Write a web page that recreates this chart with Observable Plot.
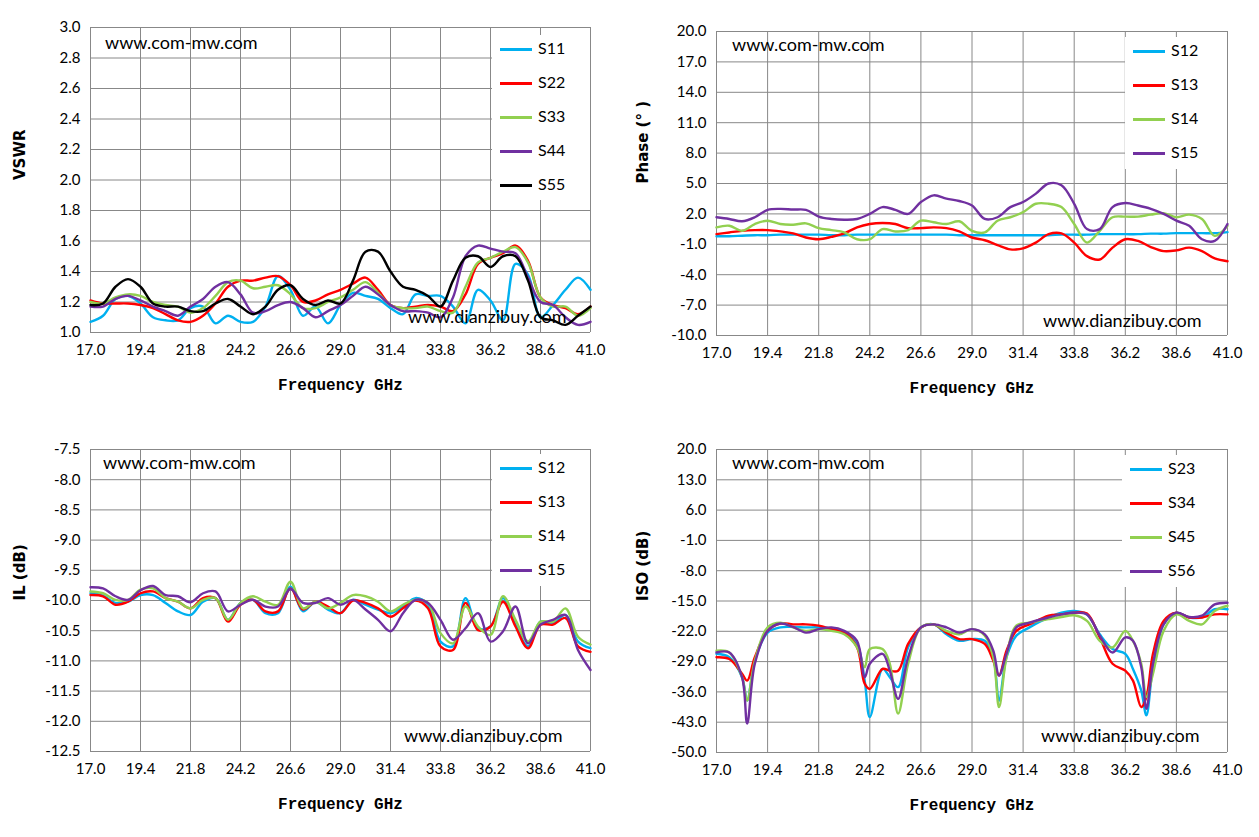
<!DOCTYPE html>
<html><head><meta charset="utf-8">
<script src="https://cdn.jsdelivr.net/npm/d3@7"></script>
<script src="https://cdn.jsdelivr.net/npm/@observablehq/plot@0.6"></script>
<style>
body{margin:0;background:#fff;width:1259px;height:837px;position:relative;overflow:hidden;font-family:Lato,"Open Sans",sans-serif}
.wm{position:absolute;font-size:18px;color:#000;font-family:Lato,"Open Sans",sans-serif;white-space:nowrap}
.lg{position:absolute;background:#fff}
.lg div{position:absolute;font-size:16px;white-space:nowrap}
.lg span{position:absolute;height:2.6px}
</style></head><body>
<script>
const colors = {S11:"#00b0f0",S12:"#00b0f0",S23:"#00b0f0",S22:"#ff0000",S13:"#ff0000",S34:"#ff0000",S33:"#92d050",S14:"#92d050",S45:"#92d050",S44:"#7030a0",S15:"#7030a0",S56:"#7030a0",S55:"#000000"};
const freq = d3.range(41).map(i => +(17 + i*0.6).toFixed(1));
const xTicks = [17.0,19.4,21.8,24.2,26.6,29.0,31.4,33.8,36.2,38.6,41.0];

// Panel 1: VSWR
const S11 = [1.07,1.11,1.22,1.24,1.19,1.10,1.08,1.08,1.16,1.17,1.06,1.11,1.07,1.07,1.17,1.37,1.28,1.11,1.17,1.06,1.18,1.26,1.24,1.22,1.16,1.12,1.25,1.24,1.24,1.17,1.06,1.28,1.21,1.08,1.45,1.38,1.10,1.18,1.28,1.36,1.28];
const S22 = [1.21,1.19,1.19,1.19,1.18,1.16,1.12,1.08,1.07,1.11,1.19,1.30,1.34,1.34,1.36,1.37,1.31,1.20,1.21,1.25,1.28,1.32,1.36,1.28,1.18,1.16,1.17,1.18,1.17,1.14,1.25,1.45,1.49,1.52,1.57,1.47,1.23,1.18,1.16,1.12,1.17];
const S33 = [1.20,1.19,1.23,1.25,1.24,1.20,1.18,1.17,1.13,1.16,1.24,1.33,1.34,1.29,1.30,1.31,1.25,1.16,1.16,1.20,1.23,1.28,1.33,1.26,1.18,1.16,1.16,1.17,1.14,1.13,1.30,1.46,1.49,1.53,1.56,1.46,1.23,1.17,1.17,1.11,1.16];
const S44 = [1.17,1.17,1.22,1.24,1.21,1.17,1.14,1.11,1.17,1.22,1.30,1.33,1.25,1.13,1.14,1.18,1.20,1.16,1.10,1.14,1.18,1.24,1.30,1.25,1.18,1.14,1.14,1.13,1.10,1.23,1.50,1.57,1.55,1.53,1.52,1.36,1.20,1.18,1.10,1.05,1.07];
const S55 = [1.18,1.19,1.30,1.35,1.30,1.19,1.17,1.17,1.14,1.14,1.19,1.22,1.17,1.12,1.17,1.28,1.31,1.22,1.18,1.21,1.19,1.34,1.53,1.53,1.40,1.30,1.28,1.24,1.17,1.34,1.49,1.50,1.43,1.50,1.50,1.34,1.10,1.08,1.05,1.11,1.17];

// Panel 2: Phase
const P12 = [-0.2,-0.2,-0.15,-0.1,-0.1,-0.05,-0.05,-0.05,-0.05,-0.1,-0.1,-0.05,-0.05,-0.05,-0.05,-0.05,-0.05,-0.05,-0.05,-0.1,-0.1,-0.1,-0.1,-0.1,-0.1,-0.1,-0.1,-0.05,-0.05,-0.05,0,0,0,0,0.05,0.05,0.1,0.1,0.1,0.1,0.2];
const P13 = [0.0,0.17,0.33,0.4,0.4,0.27,0.07,-0.33,-0.5,-0.27,0.07,0.67,1.0,1.1,1.0,0.6,0.6,0.67,0.6,0.27,-0.33,-0.6,-1.07,-1.5,-1.4,-0.83,0.0,0.07,-0.83,-2.17,-2.5,-1.33,-0.5,-0.67,-1.27,-1.67,-1.6,-1.33,-1.67,-2.4,-2.67];
const P14 = [0.67,0.83,0.33,1.0,1.33,1.0,0.93,1.07,0.6,0.4,0.17,-0.5,-0.5,0.5,0.27,0.4,1.33,1.17,1.0,1.27,0.33,0.17,1.33,1.67,2.17,3.0,3.0,2.67,1.0,-0.83,0.33,1.67,1.73,1.73,1.93,2.07,1.67,1.93,1.5,-0.17,0.83];
const P15 = [1.67,1.5,1.27,1.67,2.4,2.5,2.43,2.4,1.73,1.5,1.43,1.5,2.0,2.67,2.4,2.0,3.17,3.83,3.5,3.27,2.83,1.5,1.67,2.67,3.17,4.0,5.0,4.83,3.0,0.5,0.5,2.67,3.07,2.83,2.5,2.0,1.33,0.83,-0.5,-0.67,1.0];

// Panel 3: IL
const L12 = [-9.88,-9.92,-10.04,-10.02,-9.91,-9.91,-10.04,-10.18,-10.24,-10.02,-9.96,-10.32,-10.04,-9.99,-10.21,-10.21,-9.77,-10.18,-10.02,-10.15,-10.21,-9.99,-10.07,-10.15,-10.21,-10.10,-9.96,-10.07,-10.68,-10.76,-9.96,-10.46,-10.43,-9.96,-10.40,-10.76,-10.35,-10.38,-10.24,-10.68,-10.79];
const L13 = [-9.91,-9.93,-10.07,-10.02,-9.88,-9.85,-9.96,-10.02,-10.13,-9.96,-9.96,-10.35,-10.07,-9.99,-10.18,-10.18,-9.80,-10.15,-10.02,-10.10,-10.21,-10.0,-10.04,-10.13,-10.27,-10.13,-10.0,-10.13,-10.76,-10.82,-10.04,-10.49,-10.43,-10.02,-10.43,-10.79,-10.40,-10.40,-10.29,-10.76,-10.85];
const L14 = [-9.85,-9.88,-9.99,-9.99,-9.82,-9.80,-9.96,-10.02,-10.13,-9.99,-9.96,-10.32,-10.04,-9.93,-10.02,-10.07,-9.69,-10.13,-10.02,-10.13,-10.04,-9.91,-9.93,-10.02,-10.18,-10.07,-9.99,-10.04,-10.54,-10.71,-10.10,-10.43,-10.57,-9.93,-10.32,-10.68,-10.35,-10.35,-10.13,-10.60,-10.73];
const L15 = [-9.78,-9.80,-9.93,-9.99,-9.83,-9.76,-9.91,-9.93,-10.03,-9.88,-9.85,-10.18,-10.07,-9.99,-10.10,-10.10,-9.81,-10.04,-10.04,-9.96,-10.07,-9.99,-10.15,-10.32,-10.51,-10.21,-9.99,-10.04,-10.32,-10.65,-10.46,-10.21,-10.68,-10.51,-10.10,-10.71,-10.40,-10.32,-10.24,-10.82,-11.15];

// Panel 4: ISO
const freqIso = [17.0,17.6,18.2,18.44,18.8,19.4,20.0,20.6,21.2,21.8,22.4,23.0,23.6,23.96,24.2,24.8,25.14,25.53,26.0,26.6,27.2,27.8,28.4,29.0,29.6,30.0,30.27,30.62,31.08,31.7,32.6,33.2,33.8,34.4,35.0,35.6,36.2,36.56,36.95,37.19,37.5,38.0,38.6,39.2,39.8,40.4,41.0];
const I23 = [-27.2,-28.0,-32.6,-38.0,-28.8,-22.3,-21.1,-21.0,-21.1,-21.1,-21.5,-22.3,-24.9,-33.4,-41.8,-30.7,-32.6,-34.9,-25.7,-21.1,-20.4,-22.7,-24.2,-23.8,-24.2,-28.0,-38.0,-28.0,-23.0,-21.1,-18.8,-17.7,-17.3,-18.1,-22.7,-26.1,-27.2,-30.7,-35.7,-41.4,-30.3,-20.4,-17.7,-18.8,-18.8,-16.9,-16.9];
const I34 = [-28.0,-28.4,-31.8,-33.4,-28.0,-21.9,-20.2,-20.4,-20.4,-20.7,-21.5,-22.3,-25.7,-34.1,-35.3,-30.7,-31.1,-31.1,-24.9,-21.1,-20.4,-22.3,-23.8,-23.8,-24.9,-28.8,-32.2,-26.5,-21.9,-20.4,-18.4,-18.1,-17.7,-17.9,-23.4,-29.5,-31.1,-33.4,-39.5,-37.2,-27.2,-19.6,-17.7,-18.8,-18.8,-18.1,-18.1];
const I45 = [-26.5,-26.9,-32.6,-38.0,-28.8,-21.1,-20.0,-21.1,-21.9,-21.5,-21.9,-22.7,-25.7,-30.3,-26.1,-26.1,-29.5,-41.0,-29.5,-21.1,-20.4,-21.9,-22.7,-21.5,-23.0,-28.0,-39.5,-28.0,-20.7,-20.0,-19.2,-18.7,-18.3,-19.6,-24.2,-25.7,-21.9,-24.2,-29.5,-37.2,-31.8,-21.9,-18.1,-19.6,-20.4,-17.3,-16.1];
const I56 = [-26.9,-26.9,-32.6,-43.3,-29.5,-21.9,-20.2,-21.0,-22.3,-21.5,-21.1,-21.9,-24.2,-32.6,-29.5,-27.2,-31.1,-37.6,-28.0,-21.1,-20.4,-21.1,-22.3,-21.5,-22.7,-26.5,-32.2,-27.2,-21.1,-20.0,-18.8,-18.1,-17.7,-18.1,-23.0,-26.9,-23.4,-24.2,-30.3,-39.9,-29.5,-20.4,-17.7,-18.7,-18.4,-15.8,-15.4];

const panels = [
  {left:0, top:0, w:630, h:420, mt:27, mb:88, ml:90, mr:40, yd:[1,3], yt:d3.range(1,3.001,0.2), ylabel:"VSWR", x:freq,
   series:{S11,S22,S33,S44,S55}, lgX:492, lgY:35, lgW:98, lgH:165, wm1:[105,31], wm2:[408,305], ylx:-70},
  {left:630, top:0, w:629, h:420, mt:31, mb:85, ml:86, mr:32, yd:[-10,20], yt:d3.range(-10,20.001,3), ylabel:"Phase (° )", x:freq,
   series:{S12:P12,S13:P13,S14:P14,S15:P15}, lgX:1125, lgY:37, lgW:102, lgH:132, wm1:[732,33], wm2:[1043,309], ylx:-73},
  {left:0, top:420, w:630, h:417, mt:29, mb:86, ml:90, mr:40, yd:[-12.5,-7.5], yt:d3.range(-12.5,-7.499,0.5), ylabel:"IL (dB)", x:freq,
   series:{S12:L12,S13:L13,S14:L14,S15:L15}, lgX:492, lgY:454, lgW:98, lgH:132, wm1:[103,451], wm2:[404,724], ylx:-70},
  {left:630, top:420, w:629, h:417, mt:29, mb:85, ml:86, mr:32, yd:[-50,20], yt:d3.range(-50,20.001,7), ylabel:"ISO (dB)", x:freqIso,
   series:{S23:I23,S34:I34,S45:I45,S56:I56}, lgX:1122, lgY:455, lgW:105, lgH:132, wm1:[732,451], wm2:[1041,724], ylx:-73}
];

for (const p of panels) {
  const rows = [];
  for (const [name, vals] of Object.entries(p.series)) vals.forEach((v,i) => rows.push({name, f:p.x[i], v}));
  const names = Object.keys(p.series);
  const chart = Plot.plot({
    width:p.w, height:p.h, marginTop:p.mt, marginBottom:p.mb, marginLeft:p.ml, marginRight:p.mr,
    style:{fontFamily:"Lato, 'Open Sans', sans-serif", fontSize:"15px", color:"#000", background:"transparent"},
    x:{domain:[17,41]}, y:{domain:p.yd},
    marks:[
      Plot.gridX(xTicks,{stroke:"#888", strokeOpacity:1, strokeWidth:1}),
      Plot.gridY(p.yt,{stroke:"#888", strokeOpacity:1, strokeWidth:1}),
      Plot.axisX(xTicks,{tickSize:0, tickPadding:12, tickFormat:d=>d.toFixed(1), fontSize:15,
        label:"Frequency GHz", labelAnchor:"center", labelArrow:"none", labelOffset:57}),
      Plot.axisY(p.yt,{tickSize:0, tickPadding:10, tickFormat:d=>d.toFixed(1), fontSize:15, label:null}),
      Plot.text([p.ylabel],{frameAnchor:"left", dx:p.ylx, rotate:-90, fontWeight:"bold", fontSize:15, fontFamily:"DejaVu Sans"}),
      Plot.line(rows,{x:"f", y:"v", z:"name", stroke:d=>colors[d.name], strokeWidth:2.4, curve:"catmull-rom"})
    ]
  });
  chart.style.position="absolute"; chart.style.left=p.left+"px"; chart.style.top=p.top+"px";
  chart.querySelectorAll("text").forEach(t=>{ if(t.textContent==="Frequency GHz"){t.setAttribute("font-family","Liberation Mono"); t.setAttribute("font-weight","bold"); t.setAttribute("font-size","16");}});
  document.body.appendChild(chart);

  const w1=document.createElement("div"); w1.className="wm"; w1.textContent="www.com-mw.com"; w1.style.left=p.wm1[0]+"px"; w1.style.top=p.wm1[1]+"px"; document.body.appendChild(w1);
  const lg=document.createElement("div"); lg.className="lg"; lg.style.left=p.lgX+"px"; lg.style.top=p.lgY+"px"; lg.style.width=p.lgW+"px"; lg.style.height=p.lgH+"px";
  names.forEach((n,i)=>{
    const s=document.createElement("span"); s.style.left="8px"; s.style.width="32px"; s.style.top=(13+i*34)+"px"; s.style.background=colors[n]; lg.appendChild(s);
    const t=document.createElement("div"); t.textContent=n; t.style.left="46px"; t.style.top=(3+i*34)+"px"; lg.appendChild(t);
  });
  document.body.appendChild(lg);
  const w2=document.createElement("div"); w2.className="wm"; w2.textContent="www.dianzibuy.com"; w2.style.left=p.wm2[0]+"px"; w2.style.top=p.wm2[1]+"px"; document.body.appendChild(w2);
}
</script>
</body></html>
